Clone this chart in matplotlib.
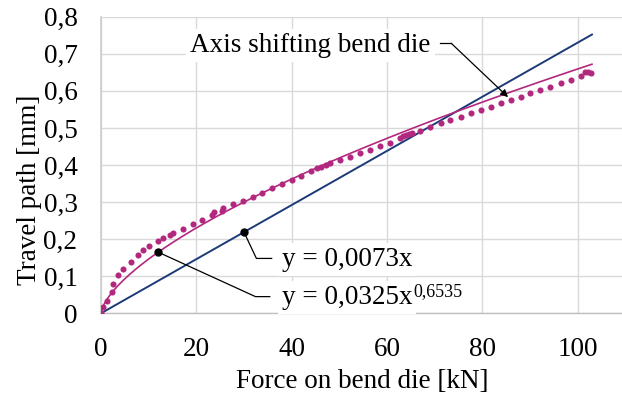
import matplotlib
matplotlib.use("Agg")
import matplotlib.pyplot as plt
import numpy as np

plt.rcParams['font.family'] = ['Liberation Serif', 'DejaVu Serif']

# measured data: force [kN] vs travel path [mm]
force = [0.0, 0.48, 1.19, 2.24, 2.52, 3.56, 4.61, 6.29, 7.82, 8.74, 10.1, 12.0,
         13.1, 14.5, 15.2, 17.2, 19.2, 21.2, 23.2, 23.7, 25.3, 25.6, 27.7, 29.8,
         31.8, 33.8, 35.9, 37.9, 40.0, 41.9, 44.0, 45.4, 46.1, 47.3, 48.0, 50.1,
         52.2, 54.3, 56.4, 58.5, 60.6, 62.7, 63.3, 63.9, 64.6, 65.2, 66.9, 69.1,
         71.3, 73.3, 75.5, 77.6, 79.7, 81.8, 83.9, 86.0, 88.1, 90.1, 92.2, 94.3,
         96.4, 98.5, 100.6, 101.5, 102.1, 102.7]
travel = [0.002, 0.018, 0.034, 0.058, 0.078, 0.102, 0.120, 0.138, 0.157, 0.171,
          0.182, 0.194, 0.202, 0.212, 0.217, 0.228, 0.241, 0.252, 0.265, 0.272,
          0.277, 0.283, 0.294, 0.304, 0.315, 0.325, 0.337, 0.348, 0.360, 0.370,
          0.384, 0.391, 0.394, 0.399, 0.405, 0.413, 0.422, 0.432, 0.441, 0.451,
          0.460, 0.472, 0.477, 0.481, 0.484, 0.486, 0.493, 0.503, 0.512, 0.521,
          0.530, 0.539, 0.548, 0.557, 0.567, 0.575, 0.584, 0.593, 0.602, 0.611,
          0.620, 0.629, 0.639, 0.652, 0.650, 0.647]

lin_coef = 0.0073
pow_coef = 0.0325
pow_exp = 0.6535
fit_range = [0.0, 103.0]

x_ticks = [0, 20, 40, 60, 80, 100]
y_ticks = [0, 0.1, 0.2, 0.3, 0.4, 0.5, 0.6, 0.7, 0.8]
y_tick_labels = ["0", "0,1", "0,2", "0,3", "0,4", "0,5", "0,6", "0,7", "0,8"]

magenta = '#b3287f'
navy = '#1c3a78'
grid = '#d9d9d9'
FS = 19.5

fig = plt.figure(figsize=(6.22, 3.98), dpi=100)
ax = fig.add_axes([101/622, 84.7/398, 1 - 101/622, 296.6/398])
ax.set_xlim(0, 109.3)
ax.set_ylim(0, 0.8)

ax.set_xticks(x_ticks)
ax.set_yticks(y_ticks)
ax.set_yticklabels(y_tick_labels)
ax.tick_params(length=0, labelsize=FS, colors='black')
ax.tick_params(axis='x', pad=17)
ax.tick_params(axis='y', pad=17)
ax.grid(True, color=grid, lw=1.0)
ax.set_axisbelow(True)
for s in ['top', 'right']:
    ax.spines[s].set_visible(False)
ax.spines['bottom'].set_color('#bfbfbf')
ax.spines['bottom'].set_linewidth(1.0)
ax.spines['left'].set_color('#d0d0d0')
ax.spines['left'].set_linewidth(1.3)

xf = np.linspace(fit_range[0], fit_range[1], 400)
ax.plot(xf, lin_coef * xf, color=navy, lw=1.4, zorder=3)
ax.plot(xf, pow_coef * np.power(xf, pow_exp), color=magenta, lw=1.2, zorder=3)
ax.plot(force, travel, linestyle='none', marker='o', markersize=4.4,
        color=magenta, markeredgewidth=0, zorder=4)

# leader lines for equations
pt_lin = (30.0, lin_coef * 30.0)
pt_pow = (12.0, pow_coef * 12.0 ** pow_exp)
ax.plot([pt_lin[0], 32.6, 35.8], [pt_lin[1], 0.148, 0.148], color='black', lw=0.9, zorder=5)
ax.plot([pt_pow[0], 32.4, 35.4], [pt_pow[1], 0.045, 0.045], color='black', lw=0.9, zorder=5)
ax.plot([pt_lin[0], pt_pow[0]], [pt_lin[1], pt_pow[1]], linestyle='none', marker='o',
        markersize=5, color='black', zorder=6)

box = dict(facecolor='white', edgecolor='none', pad=3)
ax.text(37.9, 0.128, "y = 0,0073x", fontsize=FS, ha='left', va='baseline',
        bbox=box, zorder=5)
t2 = ax.text(37.9, 0.024, "y = 0,0325x", fontsize=FS, ha='left', va='baseline',
             bbox=box, zorder=5)
ax.annotate("0,6535", xy=(1.0, 1.0), xycoords=t2, fontsize=FS * 0.66,
            ha='left', va='top', xytext=(0.5, 1.5), textcoords='offset points',
            bbox=dict(facecolor='white', edgecolor='none', pad=1), zorder=5)

# axis shifting annotation
ax.text(18.7, 0.704, "Axis shifting bend die", fontsize=FS, ha='left', va='baseline',
        bbox=box, zorder=5)
ax.plot([71.1, 73.5], [0.728, 0.728], color='black', lw=0.9, zorder=5)
ax.annotate("", xy=(85.4, 0.583), xytext=(73.5, 0.728),
            arrowprops=dict(arrowstyle='-|>', color='black', lw=0.9,
                            shrinkA=0, shrinkB=0, mutation_scale=11), zorder=6)

fig.text(30/622, 1 - 190/398, "Travel path [mm]", rotation=90, fontsize=FS,
         ha='center', va='center')
fig.text(362/622, 1 - 381/398, "Force on bend die [kN]", fontsize=FS,
         ha='center', va='center')

fig.savefig("out.png", dpi=100, facecolor='white')
